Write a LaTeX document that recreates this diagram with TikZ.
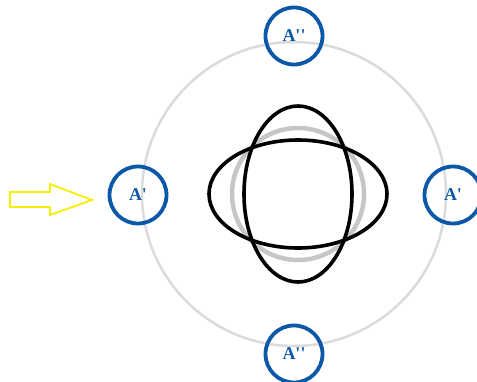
\documentclass[tikz,border=0pt]{standalone}
\usepackage{fontspec}
\setmainfont{Liberation Serif}[Ligatures=TeXOff]
\begin{document}
\begin{tikzpicture}[x=1pt,y=-1pt,
  orbit/.style={draw=gray!28,line width=2.5pt},
  ring/.style={circle,draw=nodeblue,line width=3.8pt,minimum size=57pt,inner sep=0pt,
    text=nodeblue,font=\fontsize{18}{18}\selectfont\bfseries},
  lens/.style={draw=black,line width=3.6pt},
  ghost/.style={draw=gray!45,line width=4.5pt}]
\definecolor{nodeblue}{HTML}{0B57A8}
\definecolor{arrowyellow}{HTML}{F5F000}
\useasboundingbox (0,0) rectangle (477,381);
% large orbit
\coordinate (o) at (294,194);
\draw[orbit] (o) circle[radius=152];
% inner shapes
\coordinate (c) at (298,194);
\draw[ghost] (c) circle[radius=66];
\draw[lens] (c) ellipse[x radius=89,y radius=54];
\draw[lens] (c) ellipse[x radius=54,y radius=88];
% labelled rings
\node[ring] (top) at (294,36) {A''};
\node[ring] (bottom) at (294,354) {A''};
\node[ring] (left) at (138,195) {A'};
\node[ring] (right) at (453,195) {A'};
% incoming arrow
\draw[draw=arrowyellow,line width=1.8pt,fill=white,line join=miter]
  (10,192) -- (50,192) -- (50,184) -- (92,200) -- (50,215) -- (50,207) -- (10,207) -- cycle;
\end{tikzpicture}
\end{document}
